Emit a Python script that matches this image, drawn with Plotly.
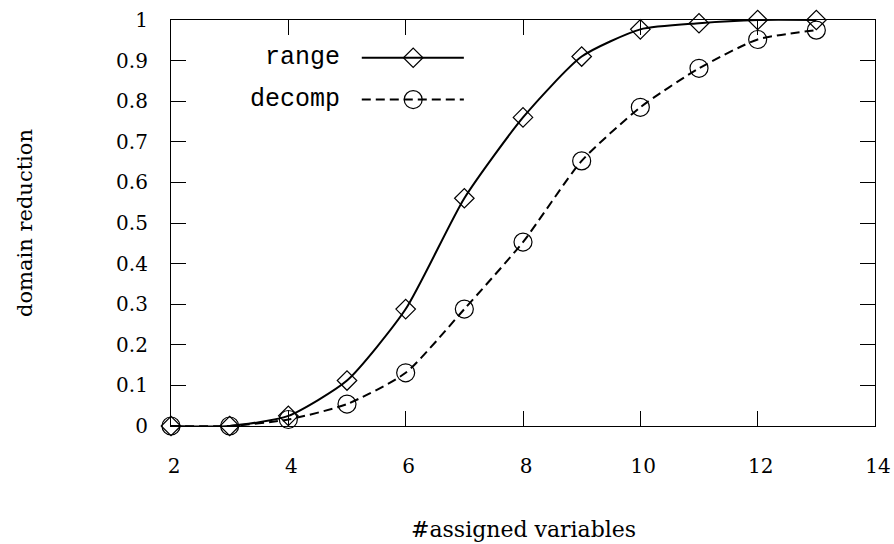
import plotly.graph_objects as go

x_vals = [2, 3, 4, 5, 6, 7, 8, 9, 10, 11, 12, 13]
range_vals = [0.0, 0.0, 0.025, 0.112, 0.288, 0.561, 0.760, 0.910, 0.977, 0.992, 1.0, 1.0]
decomp_vals = [0.0, 0.0, 0.016, 0.054, 0.131, 0.288, 0.453, 0.653, 0.785, 0.881, 0.952, 0.975]
x_ticks = [2, 4, 6, 8, 10, 12, 14]
y_ticks = [0, 0.1, 0.2, 0.3, 0.4, 0.5, 0.6, 0.7, 0.8, 0.9, 1]
y_tick_text = ["0", "0.1", "0.2", "0.3", "0.4", "0.5", "0.6", "0.7", "0.8", "0.9", "1"]
series_names = ["range", "decomp"]
x_title = "#assigned variables"
y_title = "domain reduction"

SERIF = "DejaVu Serif"
MONO = "Liberation Mono"
DASH = "9px,5px"

fig = go.Figure()
fig.add_trace(go.Scatter(
    x=x_vals, y=range_vals, mode="lines+markers", name=series_names[0],
    line=dict(color="black", width=2, shape="spline", smoothing=0.6),
    marker=dict(symbol="diamond-open", size=15, color="black", line=dict(width=1.2)),
    cliponaxis=False, showlegend=False,
))
fig.add_trace(go.Scatter(
    x=x_vals, y=decomp_vals, mode="lines+markers", name=series_names[1],
    line=dict(color="black", width=2, dash=DASH, shape="spline", smoothing=0.6),
    marker=dict(symbol="circle-open", size=18, color="black", line=dict(width=1.2)),
    cliponaxis=False, showlegend=False,
))

# Legend drawn on an overlay axis in unit coordinates of the plot area
leg_y = [0.907, 0.804]
leg_x = [0.271, 0.416]
leg_mid = 0.344
fig.add_trace(go.Scatter(x=leg_x, y=[leg_y[0]] * 2, mode="lines", xaxis="x2", yaxis="y2",
                         line=dict(color="black", width=2), showlegend=False, hoverinfo="skip"))
fig.add_trace(go.Scatter(x=[leg_mid], y=[leg_y[0]], mode="markers", xaxis="x2", yaxis="y2",
                         marker=dict(symbol="diamond-open", size=15, color="black", line=dict(width=1.2)),
                         showlegend=False, hoverinfo="skip"))
fig.add_trace(go.Scatter(x=leg_x, y=[leg_y[1]] * 2, mode="lines", xaxis="x2", yaxis="y2",
                         line=dict(color="black", width=2, dash=DASH), showlegend=False, hoverinfo="skip"))
fig.add_trace(go.Scatter(x=[leg_mid], y=[leg_y[1]], mode="markers", xaxis="x2", yaxis="y2",
                         marker=dict(symbol="circle-open", size=18, color="black", line=dict(width=1.2)),
                         showlegend=False, hoverinfo="skip"))
for name, yy in zip(series_names, leg_y):
    fig.add_annotation(x=0.240, y=yy, xref="x2", yref="y2", text=name, showarrow=False,
                       xanchor="right", yanchor="middle", xshift=2,
                       font=dict(family=MONO, size=25, color="black"))

# Axis titles
fig.add_annotation(x=0.5, y=-0.2556, xref="paper", yref="paper", text=x_title, showarrow=False,
                   xanchor="center", yanchor="middle", font=dict(family=SERIF, size=22, color="black"))
fig.add_annotation(x=-0.2074, y=0.5, xref="paper", yref="paper", text=y_title, showarrow=False,
                   textangle=-90, xanchor="center", yanchor="middle",
                   font=dict(family=SERIF, size=21, color="black"))

axis_common = dict(
    showgrid=False, zeroline=False, showline=True, linecolor="black", linewidth=1.2,
    mirror="ticks", ticks="inside", ticklen=15, tickwidth=1, tickcolor="black",
    tickfont=dict(family=SERIF, size=20, color="black"),
)

fig.update_layout(
    width=894, height=544,
    margin=dict(l=171, r=19, t=20, b=118, autoexpand=False),
    paper_bgcolor="white", plot_bgcolor="white",
    xaxis=dict(range=[2, 14], tickvals=x_ticks, ticktext=[str(v) for v in x_ticks],
               ticklabelstandoff=22, ticklabelshift=3, **axis_common),
    yaxis=dict(range=[0, 1], tickvals=y_ticks, ticktext=y_tick_text,
               ticklabelstandoff=18, **axis_common),
    xaxis2=dict(range=[0, 1], overlaying="x", visible=False, fixedrange=True),
    yaxis2=dict(range=[0, 1], overlaying="y", visible=False, fixedrange=True),
    showlegend=False,
)

# remove the default 8px page margin so the 894x544 figure fills the window exactly
fig.write_html("out.html", config={"displayModeBar": False},
               post_script="document.body.style.margin='0';document.body.style.overflow='hidden';")
